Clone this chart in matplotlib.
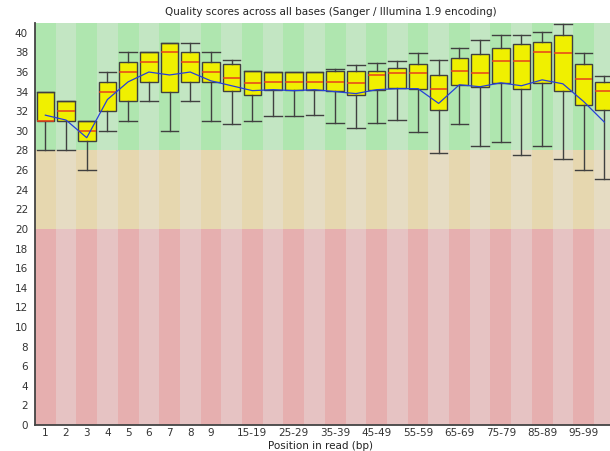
import matplotlib
matplotlib.use("Agg")
import matplotlib.pyplot as plt
import numpy as np

categories = ["1", "2", "3", "4", "5", "6", "7", "8", "9", "10-14", "15-19", "20-24",
              "25-29", "30-34", "35-39", "40-44", "45-49", "50-54", "55-59", "60-64",
              "65-69", "70-74", "75-79", "80-84", "85-89", "90-94", "95-99", "100-104"]
tick_labels = ["1", "2", "3", "4", "5", "6", "7", "8", "9", "", "15-19", "",
               "25-29", "", "35-39", "", "45-49", "", "55-59", "",
               "65-69", "", "75-79", "", "85-89", "", "95-99", ""]
lower_whisker = [28, 28, 26, 30, 31, 33, 30, 33, 31, 30.7, 31.0, 31.5, 31.5, 31.6,
                 30.85, 30.3, 30.85, 31.1, 29.9, 27.7, 30.7, 28.5, 28.9, 27.5, 28.5,
                 27.1, 26.05, 25.1]
q1 = [31, 31, 29, 32, 33, 35, 34, 35, 35, 34.1, 33.7, 34.2, 34.2, 34.2, 34.1, 33.7,
      34.2, 34.35, 34.3, 32.1, 34.7, 34.5, 34.9, 34.3, 34.9, 34.1, 32.65, 32.1]
median = [31, 32, 30, 34, 36, 37, 38, 37, 36, 35.4, 34.9, 35.0, 35.0, 35.0, 35.0,
          34.9, 35.65, 35.9, 35.9, 34.25, 36.1, 35.9, 37.1, 37.1, 38.0, 37.9, 35.3, 34.1]
q3 = [34, 33, 31, 35, 37, 38, 39, 38, 37, 36.8, 36.1, 36.0, 36.0, 36.0, 36.1, 36.1,
      36.1, 36.4, 36.8, 35.65, 37.45, 37.8, 38.5, 38.9, 39.05, 39.8, 36.8, 35.0]
upper_whisker = [34, 33, 31, 36, 38, 38, 39, 39, 38, 37.2, 36.1, 36.0, 36.0, 36.0,
                 36.3, 36.7, 36.9, 37.1, 37.9, 37.2, 38.5, 39.25, 39.8, 39.8, 40.1,
                 40.9, 37.9, 35.6]
mean = [31.6, 31.1, 29.3, 33.2, 35.0, 36.0, 35.7, 36.0, 35.1, 34.6, 34.1, 34.2, 34.1,
        34.2, 34.0, 33.8, 34.2, 34.3, 34.3, 32.8, 34.7, 34.5, 34.9, 34.6, 35.2, 34.8,
        33.0, 30.9]

W, H = 610, 451
fig = plt.figure(figsize=(W / 100, H / 100), dpi=100)
left_px, right_px, top_px, bottom_px = 35, 610, 23, 425
ax = fig.add_axes([left_px / W, (H - bottom_px) / H, (right_px - left_px) / W,
                   (bottom_px - top_px) / H])

n = len(categories)
x = np.arange(n)
ymax = 41

green = [(175/255, 230/255, 175/255), (195/255, 230/255, 195/255)]
orange = [(230/255, 215/255, 175/255), (230/255, 220/255, 195/255)]
red = [(230/255, 175/255, 175/255), (230/255, 195/255, 195/255)]
for i in x:
    k = i % 2
    ax.bar(i, 20, bottom=0, width=1.0, color=red[k], linewidth=0, zorder=0)
    ax.bar(i, 8, bottom=20, width=1.0, color=orange[k], linewidth=0, zorder=0)
    ax.bar(i, ymax - 28, bottom=28, width=1.0, color=green[k], linewidth=0, zorder=0)

stats = []
for i in range(n):
    stats.append(dict(med=median[i], q1=q1[i], q3=q3[i], whislo=lower_whisker[i],
                      whishi=upper_whisker[i], fliers=[], label=categories[i]))

ax.bxp(stats, positions=x, widths=0.85, capwidths=0.85, patch_artist=True,
       showfliers=False, manage_ticks=False,
       boxprops=dict(facecolor=(240/255, 240/255, 0), edgecolor="#404040", linewidth=1.0),
       medianprops=dict(color="#e8401c", linewidth=1.1),
       whiskerprops=dict(color="#404040", linewidth=1.0),
       capprops=dict(color="#404040", linewidth=1.0))

ax.plot(x, mean, color=(0.15, 0.25, 0.85), linewidth=0.9, zorder=5)

ax.set_xlim(-0.5, -0.5 + (right_px - left_px) / 20.7)
ax.set_ylim(0, ymax)
ax.set_yticks(np.arange(0, 41, 2))
ax.set_xticks(x)
ax.set_xticklabels(tick_labels)
ax.tick_params(axis="y", length=0, labelsize=7.5, colors="#333333", pad=5)
ax.tick_params(axis="x", length=0, labelsize=7.5, colors="#333333", pad=2.5)
for s in ["top", "right"]:
    ax.spines[s].set_visible(False)
for s in ["left", "bottom"]:
    ax.spines[s].set_color("#444444")
    ax.spines[s].set_linewidth(1.3)

fig.text(331 / W, 1 - 12 / H, "Quality scores across all bases (Sanger / Illumina 1.9 encoding)",
         ha="center", va="center", fontsize=7.5, color="#222222")
fig.text(320 / W, 1 - 446 / H, "Position in read (bp)", ha="center", va="center",
         fontsize=7.5, color="#222222")

fig.savefig("out.png", dpi=100)
